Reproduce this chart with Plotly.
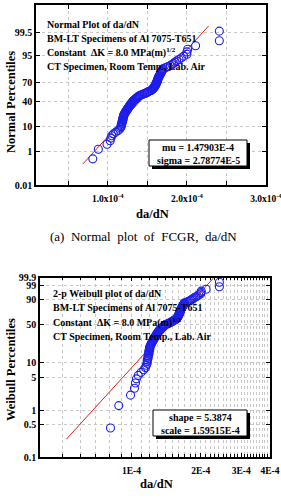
import math
from statistics import NormalDist
import plotly.graph_objects as go

# ---------------- data (da/dN, units of 1e-4) ----------------
dadn_e4 = [
    0.81, 0.88, 0.99, 1.03, 1.04, 1.05, 1.07, 1.10, 1.13, 1.15, 1.16, 1.17,
    1.17, 1.17, 1.18, 1.18, 1.18, 1.19, 1.19, 1.19, 1.19, 1.20, 1.20, 1.20,
    1.20, 1.21, 1.21, 1.22, 1.22, 1.23, 1.23, 1.24, 1.24, 1.25, 1.25, 1.26,
    1.26, 1.27, 1.27, 1.28, 1.28, 1.29, 1.29, 1.30, 1.30, 1.31, 1.31, 1.32, 1.32,
    1.33, 1.34, 1.35, 1.35, 1.36, 1.37, 1.38, 1.38, 1.39, 1.40,
    1.41, 1.43, 1.44, 1.46, 1.47, 1.49,
    1.50, 1.51, 1.52, 1.54, 1.55, 1.56, 1.57,
    1.57, 1.58, 1.58, 1.59, 1.59, 1.60, 1.60, 1.60, 1.61, 1.61, 1.61, 1.62,
    1.62, 1.62, 1.63, 1.63, 1.63, 1.63, 1.64, 1.64,
    1.64, 1.65, 1.65, 1.66, 1.66, 1.67, 1.67, 1.68, 1.68, 1.69, 1.69,
    1.70, 1.73, 1.76,
    1.79, 1.81, 1.83, 1.85,
    1.87, 1.90,
    1.93, 1.96, 2.00,
    2.00, 2.01, 2.11, 2.41, 2.41,
]
norm_mu = 1.47903e-4
norm_sigma = 2.78774e-5
wbl_shape = 5.3874
wbl_scale = 1.59515e-4
norm_fit_z = [-2.85, 2.85]          # extent of the reference line (z units)
wbl_fit_v = [0.521e-4, 2.276e-4]     # extent of the Weibull fit line

norm_ticks_pct = [0.01, 1, 10, 40, 70, 95, 99.5]
norm_xticks = [1e-4, 2e-4, 3e-4]
norm_xtick_text = ["1.0x10<sup>-4</sup>", "2.0x10<sup>-4</sup>", "3.0x10<sup>-4</sup>"]
norm_xminor = [0.5e-4, 1.5e-4, 2.5e-4]
wbl_ticks_pct = [0.1, 0.5, 1, 5, 10, 50, 90, 99, 99.9]
wbl_xticks = [1e-4, 2e-4, 3e-4, 4e-4]
wbl_xtick_text = ["1E-4", "2E-4", "3E-4", "4E-4"]

NB = "\u00a0"
text_top = ["Normal Plot of da/dN", "BM-LT Specimens of Al 7075-T651",
            "Constant" + NB + NB + "ΔK = 8.0 MPa(m)<sup>1/2</sup>",
            "CT Specimen, Room Temp., Lab. Air"]
text_bot = ["2-p Weibull plot of da/dN", "BM-LT Specimens of Al 7075-T651",
            "Constant" + NB + NB + "ΔK = 8.0 MPa(m)<sup>1/2</sup>",
            "CT Specimen, Room Temp., Lab. Air"]
stats_top = ["mu = 1.47903E-4", "sigma = 2.78774E-5"]
stats_bot = ["shape = 5.3874", "scale = 1.59515E-4"]
caption = (NB * 2).join(["(a)", "Normal", "plot", "of", "FCGR,", "da/dN"])

# ---------------- derived ----------------
W, H = 281, 498
N = NormalDist()
vals = sorted(v * 1e-4 for v in dadn_e4)
n = len(vals)
pp = [(i + 0.5) / n for i in range(n)]
z = [N.inv_cdf(p) for p in pp]
wq = [math.log(-math.log(1 - p)) for p in pp]

def wt(p):
    return math.log(-math.log(1 - p))

def px(x):
    return x / W

def py(y):
    return 1 - y / H

BLUE = "rgb(30,30,235)"
RED = "rgb(225,30,30)"
GRID = "rgb(200,200,200)"
SERIF = "Liberation Serif"

fig = go.Figure()
# top normal plot
fig.add_trace(go.Scatter(
    x=[norm_mu + zz * norm_sigma for zz in norm_fit_z], y=norm_fit_z,
    mode="lines", line=dict(color=RED, width=1), xaxis="x", yaxis="y"))
fig.add_trace(go.Scatter(
    x=vals, y=z, mode="markers", xaxis="x", yaxis="y",
    marker=dict(symbol="circle-open", size=8, color=BLUE, line=dict(width=1.1))))
# bottom weibull plot
fig.add_trace(go.Scatter(
    x=wbl_fit_v, y=[wbl_shape * math.log(v / wbl_scale) for v in wbl_fit_v],
    mode="lines", line=dict(color=RED, width=1), xaxis="x2", yaxis="y2"))
fig.add_trace(go.Scatter(
    x=vals, y=wq, mode="markers", xaxis="x2", yaxis="y2",
    marker=dict(symbol="circle-open", size=8, color=BLUE, line=dict(width=1.1))))

xtickfont = dict(family=SERIF, size=9.5, color="black", weight="bold")
ytickfont = dict(family=SERIF, size=10, color="black", weight="bold")
axcommon = dict(showline=True, linecolor="black", linewidth=1.5, mirror="allticks",
                ticks="inside", ticklen=4, tickcolor="black", tickwidth=1,
                showgrid=True, gridcolor=GRID, griddash="dot", gridwidth=1,
                zeroline=False, automargin=False, ticklabeloverflow="allow")

fig.update_layout(
    width=W, height=H, margin=dict(l=0, r=0, t=0, b=0, autoexpand=False),
    paper_bgcolor="white", plot_bgcolor="white", showlegend=False,
    xaxis=dict(domain=[px(36), px(266)], range=[0.092e-4, 3.0e-4], anchor="y",
               tickvals=norm_xticks, ticktext=norm_xtick_text, ticklabelstandoff=4,
               tickfont=xtickfont,
               minor=dict(tickvals=norm_xminor, ticks="inside", ticklen=4, tickcolor="black",
                          showgrid=True, gridcolor=GRID, griddash="dot"),
               **axcommon),
    yaxis=dict(domain=[py(185), py(5)], range=[N.inv_cdf(0.0001), N.inv_cdf(0.9999)], anchor="x",
               tickvals=[N.inv_cdf(p / 100) for p in norm_ticks_pct], tickfont=ytickfont,
               ticktext=[str(p) for p in norm_ticks_pct], **axcommon),
    xaxis2=dict(domain=[px(40), px(270)], type="log",
                range=[math.log10(4e-5), math.log10(4e-4)], anchor="y2",
                tickvals=wbl_xticks, ticktext=wbl_xtick_text, ticklabelstandoff=4,
                tickfont=xtickfont,
                minor=dict(tickvals=[k * 1e-5 for k in range(4, 41) if k % 10 != 0],
                           ticks="inside", ticklen=3, tickcolor="black",
                           showgrid=True, gridcolor=GRID, griddash="dot"),
                **axcommon),
    yaxis2=dict(domain=[py(457), py(277.5)], range=[wt(0.001), wt(0.999)], anchor="x2",
                tickvals=[wt(p / 100) for p in wbl_ticks_pct], tickfont=ytickfont,
                ticktext=[str(p) for p in wbl_ticks_pct], **axcommon),
)

ann = []
bold10 = dict(family=SERIF, size=10, color="black", weight="bold")
for i, t in enumerate(text_top):
    ann.append(dict(text=t, x=px(45), y=py(25 + i * 13.8), xref="paper", yref="paper",
                    xanchor="left", yanchor="middle", showarrow=False, font=bold10))
for i, t in enumerate(text_bot):
    ann.append(dict(text=t, x=px(51), y=py(293 + i * 14.5), xref="paper", yref="paper",
                    xanchor="left", yanchor="middle", showarrow=False, font=bold10))

bold_s = dict(family=SERIF, size=10, color="black", weight="bold")
for i, t in enumerate(stats_top):
    ann.append(dict(text=t, x=px(198), y=py(147 + i * 13), xref="paper", yref="paper",
                    xanchor="center", yanchor="middle", showarrow=False, font=bold_s))
for i, t in enumerate(stats_bot):
    ann.append(dict(text=t, x=px(200), y=py(417.5 + i * 13), xref="paper", yref="paper",
                    xanchor="center", yanchor="middle", showarrow=False, font=bold_s))

title_font = dict(family=SERIF, size=12.5, color="black", weight="bold")
ann += [
    dict(text="Normal Percentiles", x=px(11), y=py(102), textangle=-90, font=title_font),
    dict(text="da/dN", x=px(152), y=py(214), font=title_font),
    dict(text=caption, x=px(143), y=py(237),
         font=dict(family=SERIF, size=13, color="black")),
    dict(text="Weibull Percentiles", x=px(11), y=py(370), textangle=-90, font=title_font),
    dict(text="da/dN", x=px(156), y=py(484), font=title_font),
]
for a in ann[-5:]:
    a.update(xref="paper", yref="paper", xanchor="center", yanchor="middle", showarrow=False)
fig.update_layout(annotations=ann)

shapes = []
for (x0, y0, x1, y1) in [(149, 140, 247, 166), (153, 410, 247, 436)]:
    shapes.append(dict(type="rect", xref="paper", yref="paper",
                       x0=px(x0 + 3), x1=px(x1 + 3), y0=py(y1 + 3), y1=py(y0 + 3),
                       fillcolor="black", line=dict(width=0)))
    shapes.append(dict(type="rect", xref="paper", yref="paper",
                       x0=px(x0), x1=px(x1), y0=py(y1), y1=py(y0),
                       fillcolor="white", line=dict(color="black", width=1)))
fig.update_layout(shapes=shapes)

fig.write_html("out.html")
